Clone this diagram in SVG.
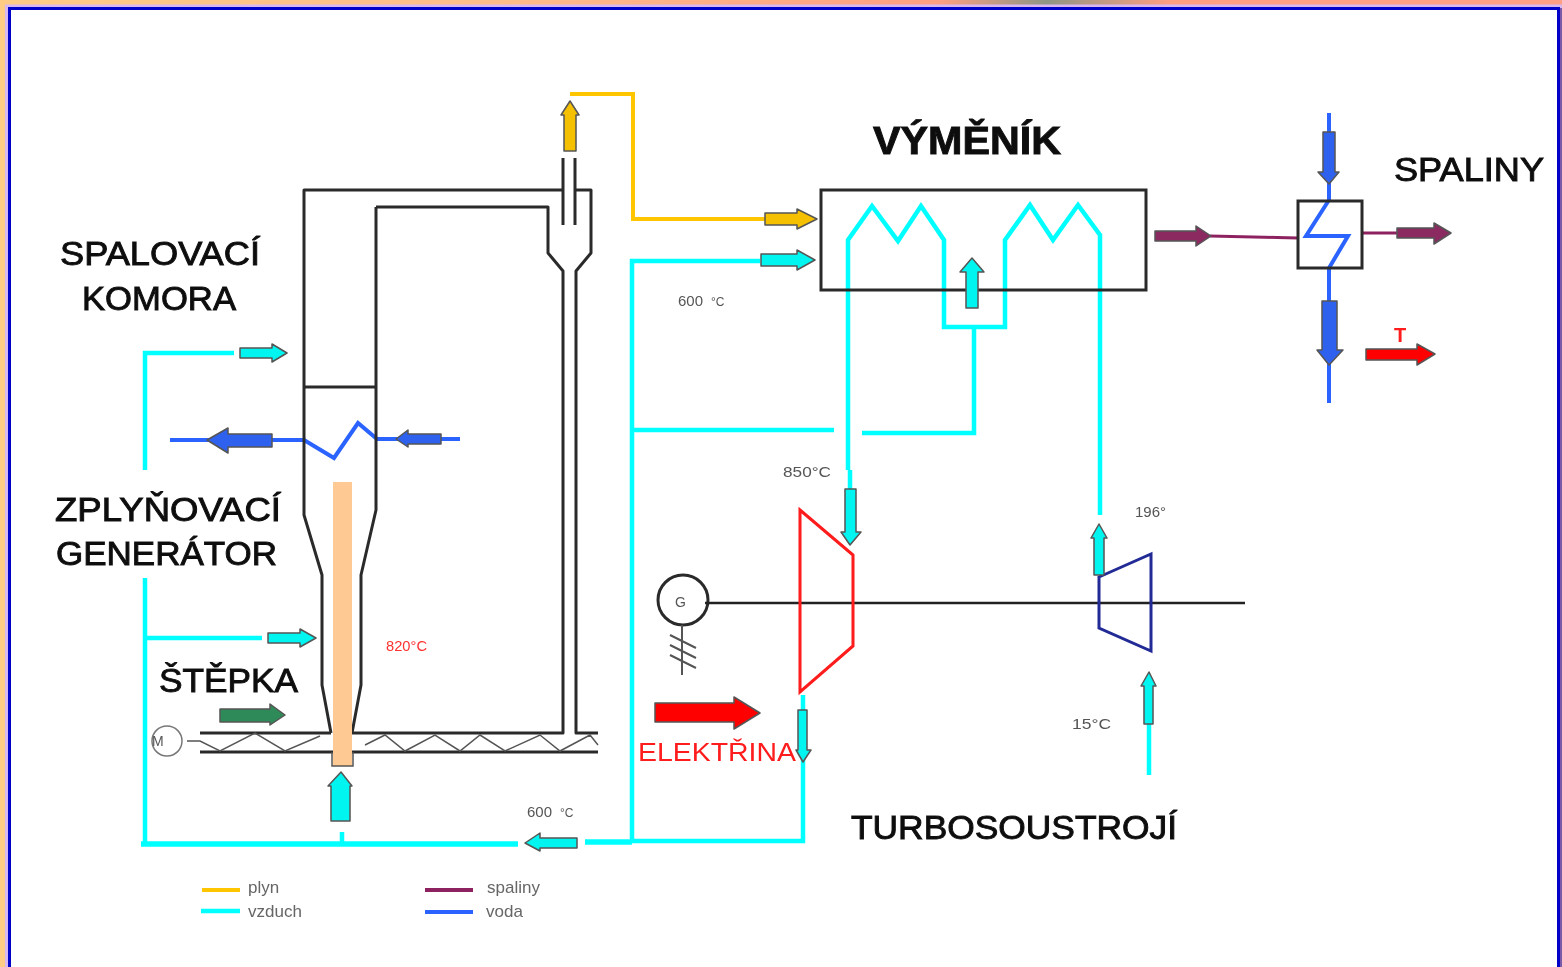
<svg xmlns="http://www.w3.org/2000/svg" width="1562" height="967" viewBox="0 0 1562 967">
<defs>
<linearGradient id="bg" x1="0" y1="0" x2="1" y2="0"><stop offset="0" stop-color="#ffcb85"/><stop offset=".3" stop-color="#ffbd8a"/><stop offset=".6" stop-color="#ff9f82"/><stop offset=".67" stop-color="#8f9585"/><stop offset=".75" stop-color="#ff9f82"/><stop offset="1" stop-color="#ff9f85"/></linearGradient>
<filter id="soft" x="-2%" y="-2%" width="104%" height="104%"><feGaussianBlur stdDeviation="0.7"/></filter>
</defs>
<style>
.w{fill:none;stroke:#2b2b2b;stroke-width:3;stroke-linejoin:round}
.g{fill:none;stroke:#555;stroke-width:1.5}
.c{fill:none;stroke:#00ffff;stroke-width:4.5}
.c5{fill:none;stroke:#00ffff;stroke-width:5.5}
.y{fill:none;stroke:#ffc600;stroke-width:4}
.b{fill:none;stroke:#2a63ff;stroke-width:4}
.p{fill:none;stroke:#8e2460;stroke-width:3}
.a{stroke:#555;stroke-width:1.5;stroke-linejoin:round}
.ac{fill:#00f5f0}.ay{fill:#f5c000}.ab{fill:#2d62ee}.ap{fill:#8a2c60}.ar{fill:#ff0000}.ag{fill:#2f8a58}
text{font-family:"Liberation Sans",Arial,sans-serif;fill:#111}
.big{font-size:33px;stroke:#111;stroke-width:.9}
.sm{font-size:15px;fill:#555}
.leg{font-size:17px;fill:#666}
</style>
<rect width="1562" height="967" fill="url(#bg)"/>
<rect x="5" y="4.5" width="1557" height="962.5" fill="#d9b8f2"/>
<rect x="9.5" y="8.5" width="1549" height="960" fill="#fff" stroke="#0000c8" stroke-width="3"/>
<rect x="1560" y="8" width="2" height="959" fill="#7a5aa8"/>
<g filter="url(#soft)">
<g id="connectors">
<path class="c" d="M234 353H145V470"/>
<path class="c" d="M145 578V843"/>
<path class="c" d="M145 638H262"/>
<path class="c5" d="M141 844H518"/>
<path class="c" d="M342 832V844"/>
<path class="c5" d="M585 842H632"/>
<path class="c" d="M632 841H803V695"/>
<path class="c" d="M632 842V261H760"/>
<path class="c" d="M632 430H834"/>
<path class="c" d="M862 433H974V327"/>
<path class="c" d="M848 470V240L872 206L898 241L921 206L944 240V327H1005V240L1030 205L1053 240L1078 205L1100 235V515"/>
<path class="c" d="M850 470V490"/>
<path class="c" d="M1149 775V700"/>
<path class="y" d="M570 94H633V219H765"/>
<path class="b" d="M170 440H304L334 458L358 423L377 439H460"/>
<path class="b" d="M1329 113V200L1306 236H1348L1329 268V403"/>
<path class="p" d="M1210 236L1298 238"/>
<path class="p" d="M1362 233H1398"/>
</g>
<g id="combustion-chamber">
<path class="w" d="M563 190H304V515L322 575V685L331 733"/>
<path class="w" d="M376 207V510L361 575V685L352 733"/>
<path class="w" d="M304 387H376"/>
<path class="w" d="M376 207H548V253L563 271V733H352"/>
<path class="w" d="M576 190H591V253L576 271V733H598"/>
<path class="w" d="M563 158V225M575 158V225"/>
<path class="w" d="M200 733H331"/>
<path class="w" d="M200 752H598"/>
<path class="g" d="M187 741H200L220 751L255 733L285 751L320 736M365 745L385 735L405 751L435 735L460 751L480 735L505 751L540 735L560 751L590 735L598 745"/>
<rect x="333" y="482" width="19" height="284" fill="#ffc993"/>
<path class="g" d="M332 752V766H353V752"/>
</g>
<g id="motor"><circle cx="167" cy="741" r="15" fill="#fff" stroke="#777" stroke-width="1.5"/><text x="152" y="746" font-size="14" style="fill:#555">M</text></g>
<g id="generator">
<circle cx="683" cy="600" r="25" fill="none" stroke="#2b2b2b" stroke-width="3"/>
<text x="675" y="607" font-size="14" style="fill:#555">G</text>
<path class="g" d="M682 625V675M670 635L696 648M670 645L696 658M670 655L696 668" style="stroke-width:2"/>
</g>
<g id="shaft"><path d="M705 603H1245" fill="none" stroke="#222" stroke-width="2.5"/></g>
<g id="turbine"><path d="M800 510L853 555V646L800 692Z" fill="none" stroke="#ff1a1a" stroke-width="3"/></g>
<g id="compressor"><path d="M1099 577L1151 554V651L1099 628Z" fill="none" stroke="#202a96" stroke-width="3"/></g>
<g id="exchanger"><rect x="821" y="190" width="325" height="100" fill="none" stroke="#2b2b2b" stroke-width="3"/></g>
<g id="heat-exchanger"><rect x="1298" y="201" width="64" height="67" fill="none" stroke="#2b2b2b" stroke-width="3"/></g>
<g id="arrows">
<path class="a ac" d="M240 348H272V344L287 353L272 362V358H240Z"/>
<path class="a ac" d="M268 633H300V629L316 638L300 647V643H268Z"/>
<path class="a ac" d="M577 838H540V833L525 843L540 851V848H577Z"/>
<path class="a ac" d="M331 821V786H328L341 772L352 786H350V821Z"/>
<path class="a ac" d="M761 254H797V250L815 260L797 270V266H761Z"/>
<path class="a ay" d="M765 213H797V209L817 219L797 229V225H765Z"/>
<path class="a ay" d="M564 151V115H561L570 101L579 115H576V151Z"/>
<path class="a ac" d="M966 308V272H960L972 258L984 272H978V308Z"/>
<path class="a ac" d="M845 489H856V532H861L850 545L841 532H845Z"/>
<path class="a ac" d="M1094 575V538H1091L1099 524L1107 538H1104V575Z"/>
<path class="a ac" d="M1144 724V686H1141L1149 672L1156 686H1153V724Z"/>
<path class="a ac" d="M798 710H807V750H811L803 762L796 750H798Z"/>
<path class="a ab" d="M272 434H228V428L207 440L228 453V447H272Z"/>
<path class="a ab" d="M441 434H408V430L396 439L408 447V444H441Z"/>
<path class="a ab" d="M1323 132H1335V172H1339L1329 184L1318 172H1323Z"/>
<path class="a ab" d="M1322 301H1337V350H1343L1329 365L1317 350H1322Z"/>
<path class="a ap" d="M1155 231H1196V226L1211 236L1196 246V241H1155Z"/>
<path class="a ap" d="M1397 228H1434V223L1451 233L1434 244V238H1397Z"/>
<path class="a ar" d="M1366 349H1417V344L1435 354L1417 365V360H1366Z"/>
<path class="a ar" d="M655 703H734V697L760 713L734 729V722H655Z"/>
<path class="a ag" d="M220 709H270V704L285 715L270 725V722H220Z"/>
</g>
<g id="labels">
<text class="big" x="873" y="154" font-weight="bold" textLength="188" lengthAdjust="spacingAndGlyphs" style="font-size:38px">VÝMĚNÍK</text>
<text class="big" x="1394" y="181" textLength="150" lengthAdjust="spacingAndGlyphs">SPALINY</text>
<text class="big" x="60" y="265" textLength="200" lengthAdjust="spacingAndGlyphs">SPALOVACÍ</text>
<text class="big" x="82" y="310" textLength="154" lengthAdjust="spacingAndGlyphs">KOMORA</text>
<text class="big" x="55" y="521" textLength="226" lengthAdjust="spacingAndGlyphs">ZPLYŇOVACÍ</text>
<text class="big" x="56" y="565" textLength="221" lengthAdjust="spacingAndGlyphs">GENERÁTOR</text>
<text class="big" x="159" y="692" textLength="139" lengthAdjust="spacingAndGlyphs">ŠTĚPKA</text>
<text class="big" x="851" y="839" textLength="326" lengthAdjust="spacingAndGlyphs">TURBOSOUSTROJÍ</text>
<text x="638" y="761" font-size="25" textLength="158" lengthAdjust="spacingAndGlyphs" style="fill:#ff1a1a">ELEKTŘINA</text>
<text x="1394" y="342" font-size="20" font-weight="bold" style="fill:#ff1a1a">T</text>
<text class="sm" x="678" y="306">600</text><text class="sm" x="711" y="306" style="font-size:12px">°C</text>
<text class="sm" x="783" y="477" textLength="48" lengthAdjust="spacingAndGlyphs">850°C</text>
<text class="sm" x="1135" y="517">196°</text>
<text x="386" y="651" font-size="14" textLength="41" lengthAdjust="spacingAndGlyphs" style="fill:#ff3030">820°C</text>
<text class="sm" x="1072" y="729" textLength="39" lengthAdjust="spacingAndGlyphs">15°C</text>
<text class="sm" x="527" y="817">600</text><text class="sm" x="560" y="817" style="font-size:12px">°C</text>
<text class="leg" x="248" y="893">plyn</text>
<text class="leg" x="248" y="917">vzduch</text>
<text class="leg" x="487" y="893">spaliny</text>
<text class="leg" x="486" y="917">voda</text>
</g>
<g id="legend">
<path class="y" d="M202 890H240"/>
<path class="c" d="M201 911H240"/>
<path class="p" d="M425 890H473" style="stroke-width:4"/>
<path class="b" d="M425 912H473"/>
</g>
</g>
</svg>
